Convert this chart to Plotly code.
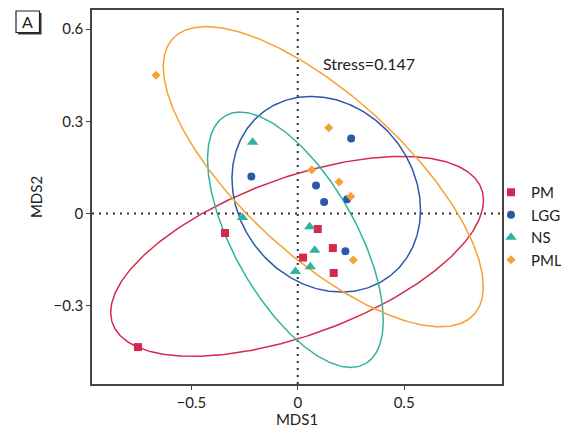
import numpy as np
import plotly.graph_objects as go

# ---- data ----
groups = ["PM", "LGG", "NS", "PML"]
colors = ["#D5294B", "#2B58A8", "#2FB3A1", "#F7A033"]
symbols = ["square", "circle", "triangle-up", "diamond"]
msize = [8, 8, 10, 7]

pm_x = [-0.751, -0.342, 0.094, 0.165, 0.025, 0.169]
pm_y = [-0.434, -0.063, -0.050, -0.112, -0.143, -0.193]
lgg_x = [-0.218, 0.251, 0.086, 0.124, 0.232, 0.224]
lgg_y = [0.121, 0.244, 0.091, 0.038, 0.047, -0.122]
ns_x = [-0.212, -0.260, 0.056, 0.080, -0.011, 0.059]
ns_y = [0.232, -0.013, -0.043, -0.119, -0.188, -0.173]
pml_x = [-0.666, 0.146, 0.066, 0.194, 0.249, 0.261]
pml_y = [0.450, 0.279, 0.142, 0.103, 0.056, -0.151]

xs = [pm_x, lgg_x, ns_x, pml_x]
ys = [pm_y, lgg_y, ns_y, pml_y]

# ellipse parameters: centre, half-width, half-height, correlation
ell_cx = [-0.003, 0.134, -0.011, 0.120]
ell_cy = [-0.139, 0.063, -0.085, 0.120]
ell_sx = [0.876, 0.443, 0.413, 0.752]
ell_sy = [0.325, 0.318, 0.415, 0.488]
ell_r = [0.56, -0.16, -0.63, -0.732]

x_ticks = [-0.5, 0, 0.5]
y_ticks = [-0.3, 0, 0.3, 0.6]
stress_text = "Stress=0.147"

FONT = "Lato"

# page has an 8px body margin: size the figure to fit the 569x428 window
OFF = 8
W, H = 569 - OFF, 428 - OFF
L, T = 92 - OFF, 10 - OFF
R = W - (502 - OFF)
B = H - (384 - OFF)
pw, ph = W - L - R, H - T - B
def px(x):  # screen pixel -> paper
    return (x - OFF - L) / pw
def py(y):
    return (H - B - (y - OFF)) / ph

fig = go.Figure()

t = np.linspace(0, 2 * np.pi, 361)
for i, g in enumerate(groups):
    ex = ell_cx[i] + ell_sx[i] * np.cos(t)
    ey = ell_cy[i] + ell_sy[i] * (ell_r[i] * np.cos(t) + np.sqrt(1 - ell_r[i] ** 2) * np.sin(t))
    fig.add_trace(go.Scatter(x=ex, y=ey, mode="lines", line=dict(color=colors[i], width=1.5),
                             showlegend=False, hoverinfo="skip"))

for i, g in enumerate(groups):
    fig.add_trace(go.Scatter(x=xs[i], y=ys[i], mode="markers", name=g,
                             marker=dict(symbol=symbols[i], color=colors[i], size=msize[i])))

# dotted reference lines
fig.add_shape(type="line", xref="x", yref="paper", x0=0, x1=0, y0=0, y1=1,
              line=dict(color="#333", width=2, dash="2px,5px"), layer="below")
fig.add_shape(type="line", xref="paper", yref="y", x0=0, x1=1, y0=0, y1=0,
              line=dict(color="#333", width=2, dash="2px,5px"), layer="below")

# panel label "A"
fig.add_shape(type="rect", xref="paper", yref="paper", x0=px(18), x1=px(41.5), y0=py(34.5), y1=py(13),
              fillcolor="#333", line=dict(width=0))
fig.add_shape(type="rect", xref="paper", yref="paper", x0=px(16), x1=px(39.5), y0=py(32.5), y1=py(11),
              fillcolor="white", line=dict(color="#222", width=1.2))
fig.add_annotation(x=px(27.7), y=py(21.7), xref="paper", yref="paper", text="A", showarrow=False,
                   xanchor="center", yanchor="middle",
                   font=dict(family=FONT, size=16, color="#222"))

fig.add_annotation(x=0.337, y=0.489, xref="x", yref="y", text=stress_text, showarrow=False,
                   xanchor="center", yanchor="middle",
                   font=dict(family=FONT, size=16, color="#222"))

fig.update_layout(
    width=W, height=H,
    margin=dict(l=L, r=R, t=T, b=B, autoexpand=False),
    paper_bgcolor="white", plot_bgcolor="white",
    font=dict(family=FONT, size=15, color="#222"),
    legend=dict(x=px(491), xanchor="left", y=py(176), yanchor="top", font=dict(size=15),
                bgcolor="rgba(0,0,0,0)", tracegroupgap=0, itemwidth=30),
    xaxis=dict(range=[-0.967, 0.960], tickvals=x_ticks, ticktext=["\u22120.5", "0", "0.5"],
               showgrid=False, zeroline=False, showline=True, mirror=True, linecolor="#444", linewidth=1.5,
               ticks="outside", ticklen=4, tickcolor="#444", automargin=False,
               title=dict(text="MDS1", standoff=0, font=dict(size=15))),
    yaxis=dict(range=[-0.554, 0.662], tickvals=y_ticks, ticktext=["\u22120.3", "0", "0.3", "0.6"],
               showgrid=False, zeroline=False, showline=True, mirror=True, linecolor="#444", linewidth=1.5,
               ticks="outside", ticklen=4, tickcolor="#444", automargin=False,
               title=dict(text="MDS2", standoff=7, font=dict(size=15))),
)

fig.write_html("out.html")
